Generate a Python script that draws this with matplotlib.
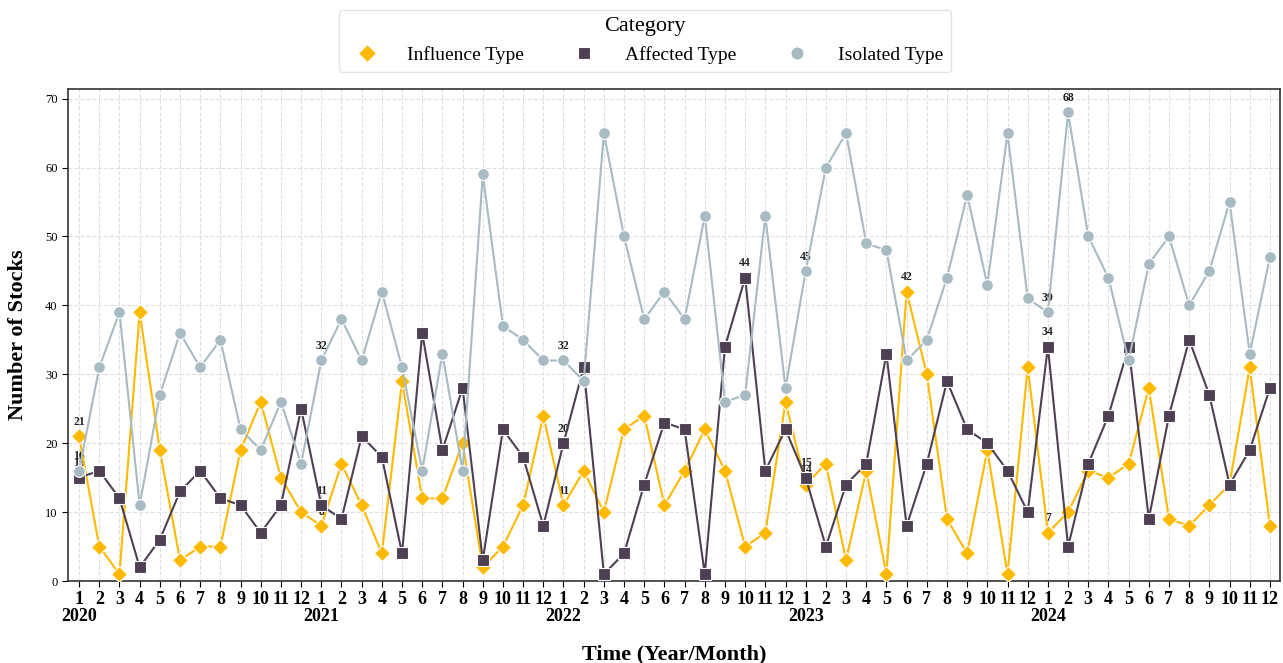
import matplotlib
matplotlib.use("Agg")
import matplotlib.pyplot as plt
import numpy as np

plt.rcParams['font.family'] = ['Liberation Serif', 'DejaVu Serif']

years = [2020, 2021, 2022, 2023, 2024]
months = list(range(1, 13))

influence = [21, 5, 1, 39, 19, 3, 5, 5, 19, 26, 15, 10,
             8, 17, 11, 4, 29, 12, 12, 20, 2, 5, 11, 24,
             11, 16, 10, 22, 24, 11, 16, 22, 16, 5, 7, 26,
             14, 17, 3, 16, 1, 42, 30, 9, 4, 19, 1, 31,
             7, 10, 16, 15, 17, 28, 9, 8, 11, 14, 31, 8]
affected = [15, 16, 12, 2, 6, 13, 16, 12, 11, 7, 11, 25,
            11, 9, 21, 18, 4, 36, 19, 28, 3, 22, 18, 8,
            20, 31, 1, 4, 14, 23, 22, 1, 34, 44, 16, 22,
            15, 5, 14, 17, 33, 8, 17, 29, 22, 20, 16, 10,
            34, 5, 17, 24, 34, 9, 24, 35, 27, 14, 19, 28]
isolated = [16, 31, 39, 11, 27, 36, 31, 35, 22, 19, 26, 17,
            32, 38, 32, 42, 31, 16, 33, 16, 59, 37, 35, 32,
            32, 29, 65, 50, 38, 42, 38, 53, 26, 27, 53, 28,
            45, 60, 65, 49, 48, 32, 35, 44, 56, 43, 65, 41,
            39, 68, 50, 44, 32, 46, 50, 40, 45, 55, 33, 47]

series_names = ["Influence Type", "Affected Type", "Isolated Type"]
colors = ["#FFB901", "#4E4053", "#A8BBC3"]
markers = ["D", "s", "o"]
msizes = [8, 8, 8.5]

# extra annotated indices (besides each January and series maxima)
extra_annot = {2: [52]}

fig = plt.figure(figsize=(12.83, 6.63), dpi=100)
ax = fig.add_axes([68/1283, 1-581/663, (1280-68)/1283, (581-89)/663])

x = np.arange(len(influence))
all_series = [influence, affected, isolated]
for k, (vals, name, c, m, ms) in enumerate(zip(all_series, series_names, colors, markers, msizes)):
    ax.plot(x, vals, color=c, marker=m, markersize=ms, markeredgecolor='white',
            markeredgewidth=0.8, linewidth=1.5, label=name, zorder=3)
    idxs = set(range(0, len(vals), 12))
    idxs.add(int(np.argmax(vals)))
    idxs.update(extra_annot.get(k, []))
    for i in sorted(idxs):
        ax.annotate(str(vals[i]), (x[i], vals[i]), textcoords='offset points',
                    xytext=(0, 6), ha='center', va='bottom', fontsize=8.5,
                    fontweight='bold', color='#222222', zorder=2)

ax.set_xlim(-0.55, len(x) - 0.5)
ax.set_ylim(0, 71.4)
ax.set_yticks(range(0, 71, 10))
ax.tick_params(axis='y', labelsize=9, length=4)
labels = []
for y in years:
    for mth in months:
        labels.append(f"{mth}\n{y}" if mth == 1 else f"{mth}")
ax.set_xticks(x)
ax.set_xticklabels(labels, fontsize=13, fontweight='bold', linespacing=1.0)
ax.tick_params(axis='x', length=4, pad=3)
ax.grid(True, linestyle='--', color='#E0E0E0', linewidth=0.8, zorder=0)
ax.set_axisbelow(True)
for s in ax.spines.values():
    s.set_color('#333333')
    s.set_linewidth(1.2)

ax.set_ylabel("Number of Stocks", fontsize=16, fontweight='bold', labelpad=12)
ax.set_xlabel("Time (Year/Month)", fontsize=16, fontweight='bold', labelpad=14)

leg_handles = [plt.Line2D([], [], linestyle='none', marker=m, color=c, markersize=ms + 1,
                          markeredgecolor='white', markeredgewidth=0.8)
               for m, c, ms in zip(markers, colors, msizes)]
fig.legend(leg_handles, series_names, loc='upper center', bbox_to_anchor=(645/1283, 1.0),
           ncol=3, fontsize=14, title="Category", title_fontsize=16, frameon=True,
           edgecolor='#DDDDDD', columnspacing=2.1, handletextpad=1.1, borderpad=0.4,
           borderaxespad=0.5)

fig.savefig("out.png", dpi=100)
